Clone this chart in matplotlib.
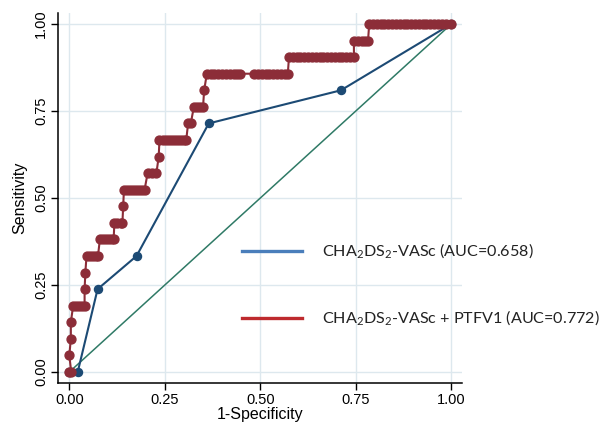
import matplotlib
matplotlib.use("Agg")
import matplotlib.pyplot as plt

# ROC points, CHA2DS2-VASc alone
blue_fpr = [0.0, 0.022, 0.074, 0.176, 0.365, 0.711, 1.0]
blue_tpr = [0.0, 0.0, 5/21, 7/21, 15/21, 17/21, 1.0]

# ROC points, CHA2DS2-VASc + PTFV1 (one list of fpr per sensitivity level k/21)
red_runs = [
    [0.0, 0.005],
    [0.0],
    [0.004],
    [0.004],
    [0.010, 0.018, 0.026, 0.034, 0.040],
    [0.040],
    [0.042],
    [0.045, 0.053, 0.061, 0.069, 0.075],
    [0.080, 0.088, 0.096, 0.104, 0.112, 0.116],
    [0.118, 0.126, 0.134, 0.139],
    [0.141],
    [0.143, 0.151, 0.159, 0.167, 0.175, 0.183, 0.191, 0.197],
    [0.205, 0.216, 0.228],
    [0.234],
    [0.236, 0.244, 0.252, 0.260, 0.268, 0.276, 0.284, 0.292, 0.300, 0.306],
    [0.311, 0.318],
    [0.326, 0.334, 0.342, 0.350],
    [0.353],
    [0.360, 0.370, 0.380, 0.390, 0.400, 0.410, 0.420, 0.430, 0.440, 0.448,
     0.484, 0.494, 0.504, 0.514, 0.524, 0.534, 0.544, 0.554, 0.564, 0.572],
    [0.575, 0.585, 0.595, 0.605, 0.615, 0.625, 0.635, 0.645, 0.655, 0.665,
     0.675, 0.685, 0.695, 0.705, 0.715, 0.725, 0.735, 0.745],
    [0.745, 0.755, 0.765, 0.775, 0.782],
    [0.785, 0.795, 0.805, 0.815, 0.825, 0.835, 0.845, 0.855, 0.865, 0.875,
     0.885, 0.895, 0.905, 0.915, 0.925, 0.935, 0.945, 0.955, 0.965, 0.975,
     0.985, 1.0],
]
n_pos = 21

ref_line = [0.0, 1.0]
ticks = [0.0, 0.25, 0.5, 0.75, 1.0]
tick_labels = ["0.00", "0.25", "0.50", "0.75", "1.00"]

legend_labels = [r"CHA$\mathregular{_2}$DS$\mathregular{_2}$-VASc (AUC=0.658)",
                 r"CHA$\mathregular{_2}$DS$\mathregular{_2}$-VASc + PTFV1 (AUC=0.772)"]

red_fpr, red_tpr = [], []
for k, run in enumerate(red_runs):
    for x in run:
        red_fpr.append(x)
        red_tpr.append(k / n_pos)

navy = "#1c4a74"
maroon = "#8c2d38"
green = "#2f7a66"
grid_c = "#dde8ee"

fig = plt.figure(figsize=(6.03, 4.29), dpi=100)
ax = fig.add_axes([0.0962, 0.1072, 0.670, 0.8625])

ax.plot(ref_line, ref_line, color=green, lw=1.1, zorder=2)
ax.plot(blue_fpr, blue_tpr, color=navy, lw=1.5, marker="o", ms=5.8, zorder=3)
ax.plot(red_fpr, red_tpr, color=maroon, lw=1.5, marker="o", ms=6.4, zorder=4)

ax.set_xlim(-0.0296, 1.028)
ax.set_ylim(-0.0316, 1.0316)
ax.set_xticks(ticks)
ax.set_xticklabels(tick_labels)
ax.set_yticks(ticks)
ax.set_yticklabels(tick_labels, rotation=90, va="center")
ax.grid(True, color=grid_c, lw=1.0)
ax.set_axisbelow(True)
for s in ["top", "right"]:
    ax.spines[s].set_visible(False)
for s in ["left", "bottom"]:
    ax.spines[s].set_linewidth(1.1)
ax.tick_params(direction="out", length=5, width=1, labelsize=10.5, pad=2)
for t in ax.get_xticklabels() + ax.get_yticklabels():
    t.set_family("Liberation Sans")
ax.set_xlabel("1-Specificity", family="Liberation Sans", fontsize=11.5, labelpad=0)
ax.set_ylabel("Sensitivity", family="Liberation Sans", fontsize=11.5, labelpad=5)

# legend drawn in figure coordinates (it runs past the plot area)
for i, (lab, c) in enumerate(zip(legend_labels, ["#4a7ebb", "#be2a2e"])):
    yy = 1 - [251, 318][i] / 429
    fig.add_artist(plt.Line2D([242 / 603, 302 / 603], [yy, yy], color=c, lw=2.4))
    fig.text(322 / 603, yy, lab, family="Lato", fontsize=11.6, va="center", ha="left",
             color="#222222")

fig.savefig("out.png", dpi=100)
